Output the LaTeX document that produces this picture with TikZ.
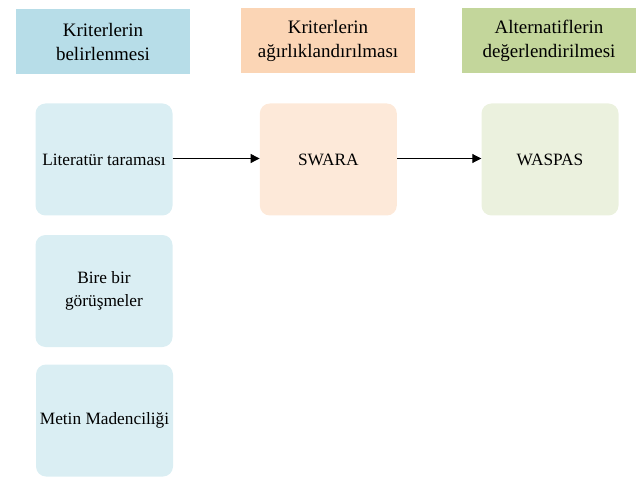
\documentclass[tikz,border=0pt]{standalone}
\usepackage{fontspec}
\setmainfont{Liberation Serif}
\usetikzlibrary{arrows.meta}
\definecolor{baslikmavi}{HTML}{B7DDE8}
\definecolor{baslikturuncu}{HTML}{FBD5B5}
\definecolor{baslikyesil}{HTML}{C3D69B}
\definecolor{kutumavi}{HTML}{DAEEF3}
\definecolor{kututuruncu}{HTML}{FDE9D9}
\definecolor{kutuyesil}{HTML}{EBF1DE}

\begin{document}
\begin{tikzpicture}[x=1pt, y=-1pt,
	baslik/.style={minimum width=174pt, minimum height=65pt, align=center, inner sep=0pt, font=\fontsize{19}{24}\selectfont},
	kutu/.style={rounded corners=10pt, minimum width=137pt, minimum height=112pt, align=center, inner sep=0pt, font=\fontsize{17.3}{23.3}\selectfont},
	ok/.style={-{Triangle[length=9pt,width=9pt]}, line width=0.9pt}]
			%%%%% START %%%%%
			
			\useasboundingbox (0, 0) rectangle (639, 478);
			
			\node[baslik, fill=baslikmavi] (b1) at (103, 41.8) {Kriterlerin\\belirlenmesi};
			\node[baslik, fill=baslikturuncu] (b2) at (328, 40.8) {Kriterlerin\\ağırlıklandırılması};
			\node[baslik, fill=baslikyesil] (b3) at (549, 40.8) {Alternatiflerin\\değerlendirilmesi};
			
			\node[kutu, fill=kutumavi] (lit) at (104, 159.5) {Literatür taraması};
			\node[kutu, fill=kutumavi] (bire) at (104, 291) {Bire bir\\görüşmeler};
			\node[kutu, fill=kutumavi] (metin) at (104.5, 420.5) {Metin Madenciliği};
			
			\node[kutu, fill=kututuruncu] (swara) at (328.3, 159.5) {SWARA};
			\node[kutu, fill=kutuyesil] (waspas) at (550, 159.5) {WASPAS};
			
			\draw[ok] (lit.east |- 0,158.5) -- (swara.west |- 0,158.5);
			\draw[ok] (swara.east |- 0,158.5) -- (waspas.west |- 0,158.5);
			
			%%%%% END %%%%%
\end{tikzpicture}
\end{document}
